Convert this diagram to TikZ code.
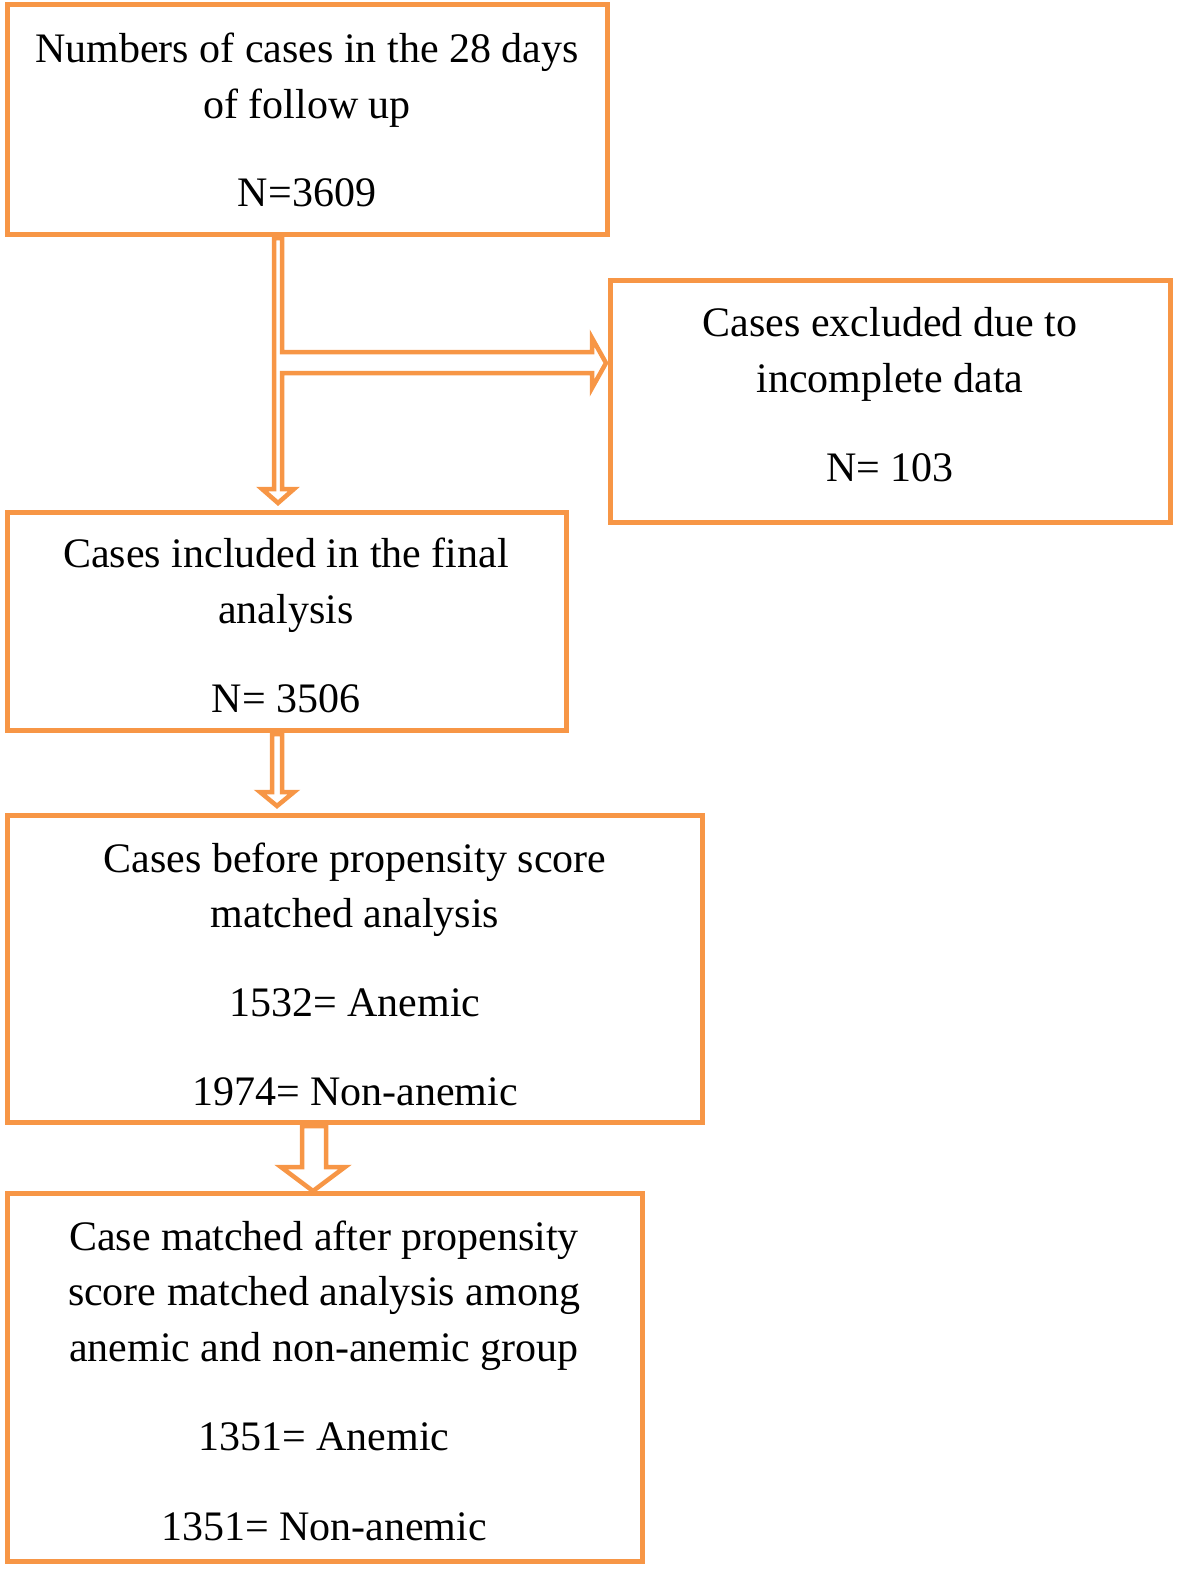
\documentclass[tikz,border=0pt]{standalone}
\usepackage{fontspec}
\setmainfont{Liberation Serif}
\definecolor{org}{HTML}{F79646}
\begin{document}
\begin{tikzpicture}[x=1pt,y=-1pt,
  box/.style={draw=org,line width=5pt,fill=none},
  arr/.style={draw=org,line width=4.5pt,fill=white,line join=miter},
  t/.style={font=\fontsize{42}{50}\selectfont,anchor=mid,inner sep=0pt}]
\useasboundingbox (0,0) rectangle (1182,1579);
\draw[box] (7,5) rectangle (607,234);
\draw[box] (610,280) rectangle (1170,522);
\draw[box] (7,512) rectangle (566,730);
\draw[box] (7,815) rectangle (702,1122);
\draw[box] (7,1193) rectangle (642,1561);
\draw[arr] (274,238)--(282,238)--(282,352)--(592,352)--(592,338)--(606,363)--(592,388)--(592,373)--(282,373)--(282,489)--(294,489)--(278,503)--(262,489)--(274,489)--cycle;
\draw[arr] (272,734)--(282,734)--(282,792)--(294,792)--(277,806)--(260,792)--(272,792)--cycle;
\draw[arr] (302,1126)--(326,1126)--(326,1167)--(345,1167)--(313,1191)--(281,1167)--(302,1167)--cycle;
\node[t] (a1) at (307,60) {Numbers of cases in the 28 days};
\node[t] (a2) at (307,116) {of follow up};
\node[t] (a3) at (307,204) {N=3609};
\node[t] (b1) at (890,334) {Cases excluded due to};
\node[t] (b2) at (890,390) {incomplete data};
\node[t] (b3) at (890,479) {N= 103};
\node[t] (c1) at (286,565) {Cases included in the final};
\node[t] (c2) at (286,621) {analysis};
\node[t] (c3) at (286,710) {N= 3506};
\node[t] (d1) at (355,870) {Cases before propensity score};
\node[t] (d2) at (355,925) {matched analysis};
\node[t] (d3) at (355,1014) {1532= Anemic};
\node[t] (d4) at (355,1103) {1974= Non-anemic};
\node[t] (e1) at (324,1248) {Case matched after propensity};
\node[t] (e2) at (324,1303) {score matched analysis among};
\node[t] (e3) at (324,1359) {anemic and non-anemic group};
\node[t] (e4) at (324,1448) {1351= Anemic};
\node[t] (e5) at (324,1538) {1351= Non-anemic};
\end{tikzpicture}
\end{document}
